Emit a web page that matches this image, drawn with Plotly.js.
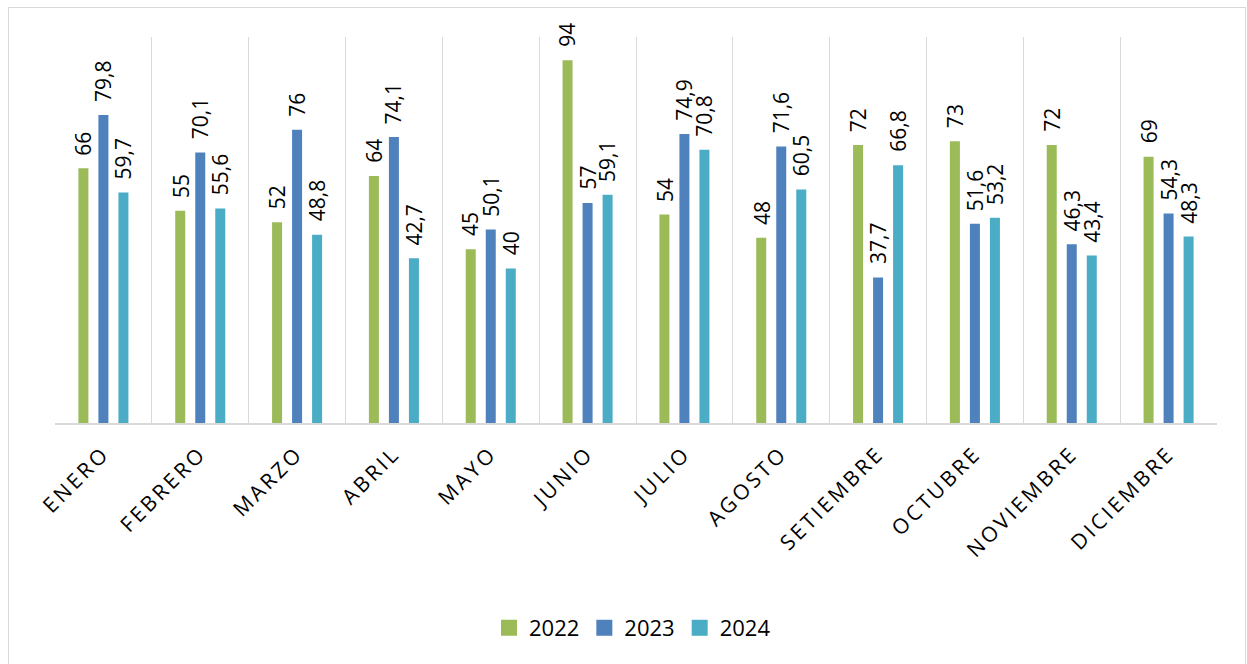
<!DOCTYPE html>
<html>
<head>
<meta charset="utf-8">
<script src="https://cdn.plot.ly/plotly-3.0.1.min.js"></script>
<style>
  html, body { margin: 0; padding: 0; background: #ffffff; }
  #wrap { position: relative; width: 1247px; height: 664px; }
  #chart { position: absolute; left: 0; top: 0; width: 1247px; height: 664px; }
  #frame { position: absolute; left: 8px; top: 7px; width: 1238px; height: 670px; box-sizing: border-box;
           border: 1px solid #d9d9d9; pointer-events: none; }
  .xtick text { letter-spacing: 3px; }
</style>
</head>
<body>
<div id="wrap">
  <div id="chart"></div>
  <div id="frame"></div>
</div>
<script>
const months = ["ENERO","FEBRERO","MARZO","ABRIL","MAYO","JUNIO","JULIO","AGOSTO","SETIEMBRE","OCTUBRE","NOVIEMBRE","DICIEMBRE"];
const seriesNames = ["2022","2023","2024"];
const v2022 = [66, 55, 52, 64, 45, 94, 54, 48, 72, 73, 72, 69];
const v2023 = [79.8, 70.1, 76, 74.1, 50.1, 57, 74.9, 71.6, 37.7, 51.6, 46.3, 54.3];
const v2024 = [59.7, 55.6, 48.8, 42.7, 40, 59.1, 70.8, 60.5, 66.8, 53.2, 43.4, 48.3];
const colors = ["#9BBB59", "#4F81BD", "#4BACC6"];

const allValues = [v2022, v2023, v2024];
const fmt = v => String(v).replace('.', ',');

const W = 1247, H = 664;
const margin = {l: 55, r: 30, t: 37, b: 241};
const bargap = 0.38;
const plotW = W - margin.l - margin.r;
const catW = plotW / months.length;
const slotW = catW * (1 - bargap) / allValues.length;

const traces = allValues.map((vals, i) => ({
  type: 'bar',
  name: seriesNames[i],
  x: months,
  y: vals,
  marker: {color: colors[i], line: {width: 0}},
  hoverinfo: 'x+y+name'
}));

const annotations = [];
allValues.forEach((vals, i) => {
  vals.forEach((v, j) => {
    annotations.push({
      x: months[j], y: v, xref: 'x', yref: 'y',
      text: fmt(v), showarrow: false, textangle: -90,
      xanchor: 'center', yanchor: 'bottom',
      xshift: (i - (allValues.length - 1) / 2) * slotW,
      yshift: 11,
      font: {family: 'Open Sans, sans-serif', size: 21, color: '#000000'}
    });
  });
});

const layout = {
  width: W, height: H,
  margin: margin,
  paper_bgcolor: '#ffffff',
  plot_bgcolor: '#ffffff',
  barmode: 'group',
  bargap: bargap,
  bargroupgap: 0.5,
  showlegend: true,
  legend: {
    orientation: 'h', x: 0.497, xanchor: 'center', y: -0.531, yanchor: 'middle',
    font: {family: 'Open Sans, sans-serif', size: 22, color: '#000000'},
    itemwidth: 30
  },
  xaxis: {
    type: 'category',
    tickson: 'boundaries',
    showgrid: true, gridcolor: '#d9d9d9', gridwidth: 1,
    showline: true, linecolor: '#d9d9d9', linewidth: 2,
    ticks: '', tickangle: -45,
    tickfont: {family: 'Open Sans, sans-serif', size: 21, color: '#000000'},
    ticklabelstandoff: 8,
    range: [-0.5, months.length - 0.5],
    fixedrange: true
  },
  yaxis: {
    range: [0, 100],
    showgrid: false, zeroline: false, showline: false,
    showticklabels: false, ticks: '',
    fixedrange: true
  },
  annotations: annotations
};

Plotly.newPlot('chart', traces, layout, {displayModeBar: false, staticPlot: true}).then(() => {
  document.querySelectorAll('#chart .legend .legendpoints path').forEach(p => {
    p.setAttribute('d', 'M8,8H-8V-8H8Z');
  });
});
</script>
</body>
</html>
